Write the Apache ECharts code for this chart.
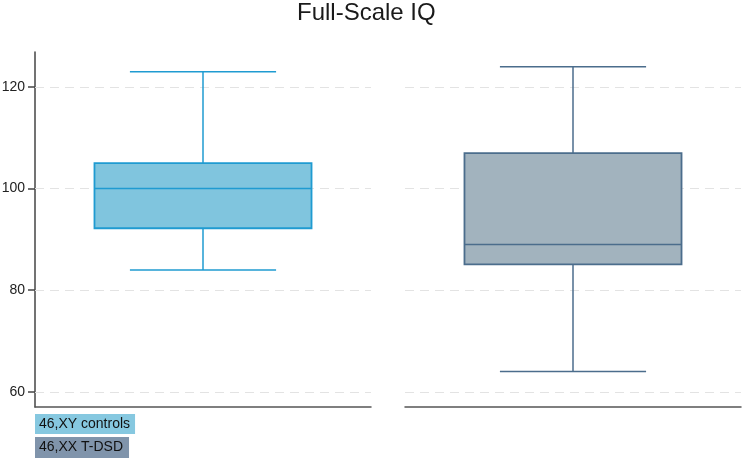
<!DOCTYPE html>
<html>
<head>
<meta charset="utf-8">
<script src="https://cdn.jsdelivr.net/npm/echarts@6/dist/echarts.min.js"></script>
<style>
  html, body { margin: 0; padding: 0; background: #fff; }
  #chart { width: 744px; height: 462px; }
</style>
</head>
<body>
<div id="chart"></div>
<script>
const titleText = 'Full-Scale IQ';
const categories = ['46,XY controls', '46,XX T-DSD'];
const whiskerLow = [84, 64];
const q1 = [92.2, 85.1];
const median = [100, 89];
const q3 = [105, 107];
const whiskerHigh = [123, 124];
const yTicks = [60, 80, 100, 120];
const yMin = 57;
const yMax = 126.9;

const fills = ['#80c5de', '#a2b3be'];
const strokes = ['#1f9bd1', '#4b6d8c'];
const legendBg = ['#86c8e0', '#8094ab'];

const chart = echarts.init(document.getElementById('chart'), null, { renderer: 'canvas' });

function renderBox(params, api) {
  const cx = api.coord([api.value(0), api.value(3)])[0];
  const band = api.size([1, 0])[0];
  const bw = band * 0.646;
  const cw = band * 0.435;
  const yLo = api.coord([api.value(0), api.value(1)])[1];
  const yQ1 = api.coord([api.value(0), api.value(2)])[1];
  const yMed = api.coord([api.value(0), api.value(3)])[1];
  const yQ3 = api.coord([api.value(0), api.value(4)])[1];
  const yHi = api.coord([api.value(0), api.value(5)])[1];
  const idx = api.value(6);
  const stroke = strokes[idx];
  const ls = { stroke: stroke, lineWidth: 1.5 };
  return {
    type: 'group',
    children: [
      { type: 'line', shape: { x1: cx, y1: yHi, x2: cx, y2: yQ3 }, style: ls },
      { type: 'line', shape: { x1: cx, y1: yQ1, x2: cx, y2: yLo }, style: ls },
      { type: 'line', shape: { x1: cx - cw / 2, y1: yHi, x2: cx + cw / 2, y2: yHi }, style: ls },
      { type: 'line', shape: { x1: cx - cw / 2, y1: yLo, x2: cx + cw / 2, y2: yLo }, style: ls },
      { type: 'rect', shape: { x: cx - bw / 2, y: yQ3, width: bw, height: yQ1 - yQ3 },
        style: { fill: fills[idx], stroke: stroke, lineWidth: 1.8 } },
      { type: 'line', shape: { x1: cx - bw / 2, y1: yMed, x2: cx + bw / 2, y2: yMed }, style: ls }
    ]
  };
}

const grids = [
  { left: 35, right: 373, top: 52, bottom: 55, outerBoundsMode: 'none', containLabel: false },
  { left: 405, right: 3, top: 52, bottom: 55, outerBoundsMode: 'none', containLabel: false }
];

const gridSeries = [0, 1].map(i => ({
  type: 'line',
  xAxisIndex: i,
  yAxisIndex: i,
  data: [],
  z: 1,
  silent: true,
  markLine: {
    silent: true,
    z: 1,
    symbol: 'none',
    label: { show: false },
    animation: false,
    lineStyle: { color: '#e3e3e3', type: [9, 6], width: 1 },
    data: yTicks.map(v => ({ yAxis: v }))
  }
}));

const boxSeries = [0, 1].map(i => ({
  type: 'custom',
  name: categories[i],
  xAxisIndex: i,
  yAxisIndex: i,
  renderItem: renderBox,
  encode: { x: 0, y: [1, 2, 3, 4, 5] },
  data: [[0, whiskerLow[i], q1[i], median[i], q3[i], whiskerHigh[i], i]],
  z: 10
}));

const option = {
  backgroundColor: '#ffffff',
  animation: false,
  title: {
    text: titleText,
    left: 297,
    top: 1,
    padding: 0,
    textStyle: { fontFamily: 'Liberation Sans, Arial, sans-serif', fontSize: 24, fontWeight: 'normal', color: '#1a1a1a' }
  },
  grid: grids,
  xAxis: [0, 1].map(i => ({
    type: 'category',
    gridIndex: i,
    data: [categories[i]],
    axisLine: { show: true, lineStyle: { color: '#555', width: 1.5 } },
    axisTick: { show: false },
    axisLabel: { show: false },
    splitLine: { show: false }
  })),
  yAxis: [0, 1].map(i => ({
    type: 'value',
    gridIndex: i,
    min: yMin,
    max: yMax,
    axisLine: { show: i === 0, lineStyle: { color: '#444', width: 1.5 } },
    axisTick: { show: i === 0, length: 7, customValues: yTicks, lineStyle: { color: '#444', width: 1.5 } },
    axisLabel: { show: i === 0, customValues: yTicks, margin: 10, fontFamily: 'Liberation Sans, Arial, sans-serif', fontSize: 14, color: '#222' },
    splitLine: { show: false }
  })),
  graphic: [
    { type: 'text', left: 35, top: 414,
      style: { text: categories[0], font: '14px "Liberation Sans", Arial, sans-serif', fill: '#111',
               backgroundColor: legendBg[0], padding: [3, 5, 3, 4] } },
    { type: 'text', left: 35, top: 437,
      style: { text: categories[1], font: '14px "Liberation Sans", Arial, sans-serif', fill: '#111',
               backgroundColor: legendBg[1], padding: [3, 6, 4, 4] } }
  ],
  series: gridSeries.concat(boxSeries)
};

chart.setOption(option);
</script>
</body>
</html>
